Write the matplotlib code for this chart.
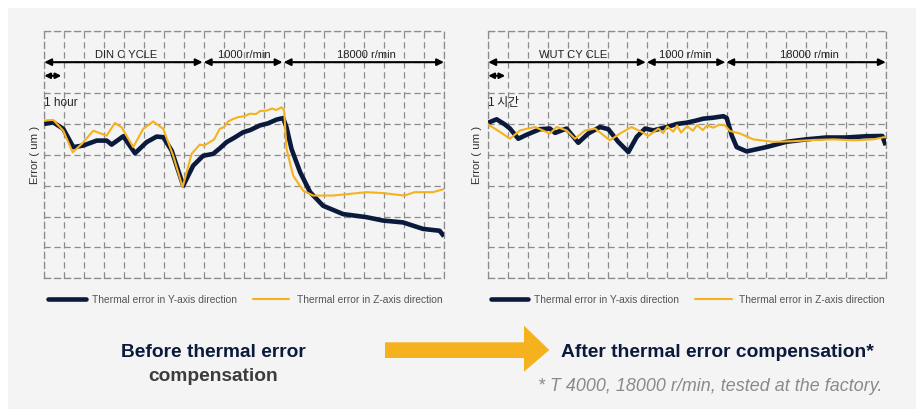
import matplotlib
matplotlib.use("Agg")
import matplotlib.pyplot as plt
from matplotlib.patches import Rectangle, Polygon

W, H = 924, 410

# ---------------- data (x in hours, y in grid units) ----------------
left_y_x = [0, 0.45, 0.95, 1.45, 1.95, 2.62, 3.12, 3.37, 3.95, 4.54, 5.12, 5.62, 5.95, 6.37, 6.95,
            7.45, 7.95, 8.45, 8.8, 9.12, 9.5, 9.95, 10.3, 10.78, 11.2, 11.62, 11.95, 12.12, 12.37,
            12.8, 13.3, 13.95, 14.95, 16.12, 16.95, 17.95, 18.95, 19.78, 20]
left_y_v = [5.0, 5.05, 4.84, 4.25, 4.3, 4.46, 4.46, 4.33, 4.6, 4.05, 4.41, 4.59, 4.57, 4.14, 3.0,
            3.65, 3.97, 4.03, 4.22, 4.41, 4.55, 4.73, 4.8, 4.95, 5.02, 5.14, 5.19, 4.89, 4.19,
            3.44, 2.79, 2.35, 2.08, 1.98, 1.87, 1.81, 1.6, 1.54, 1.36]

left_z_x = [0, 0.45, 0.95, 1.42, 1.87, 2.45, 3.12, 3.53, 3.87, 4.45, 4.95, 5.45, 5.95, 6.45, 6.92,
            7.37, 7.78, 8.0, 8.28, 8.5, 8.78, 9.0, 9.2, 9.45, 9.7, 10.0, 10.28, 10.6, 10.8, 11.12,
            11.4, 11.6, 11.87, 12.0, 12.12, 12.45, 12.95, 13.45, 14.45, 16.12, 16.95, 18.03, 18.53,
            19.45, 20]
left_z_v = [5.11, 5.13, 4.78, 4.08, 4.35, 4.78, 4.62, 5.03, 4.89, 4.25, 4.84, 5.08, 4.84, 3.97, 2.95,
            4.03, 4.33, 4.3, 4.41, 4.5, 4.84, 4.9, 5.08, 5.16, 5.22, 5.25, 5.33, 5.32, 5.42, 5.43,
            5.5, 5.45, 5.54, 5.43, 4.19, 3.33, 2.84, 2.68, 2.68, 2.79, 2.76, 2.68, 2.79,
            2.79, 2.89]

right_y_x = [0, 0.42, 0.84, 1.09, 1.51, 1.93, 2.6, 3.1, 3.36, 3.94, 4.53, 5.03, 5.62, 6.04, 6.54,
             7.05, 7.47, 7.89, 8.31, 8.98, 9.5, 9.98, 10.4, 10.82, 11.3, 11.83, 12.0, 12.25, 12.5,
             13.0, 14.0, 15.0, 16.0, 17.0, 18.0, 19.0, 19.83, 20]
right_y_v = [5.04, 5.15, 4.98, 4.85, 4.52, 4.65, 4.83, 4.85, 4.71, 4.85, 4.39, 4.69, 4.9, 4.83, 4.42,
             4.09, 4.58, 4.85, 4.79, 4.9, 5.0, 5.04, 5.1, 5.17, 5.2, 5.25, 5.19, 4.63, 4.25,
             4.11, 4.25, 4.42, 4.5, 4.56, 4.56, 4.6, 4.61, 4.31]

right_z_x = [0, 0.59, 1.09, 1.59, 2.35, 3.1, 3.44, 3.94, 4.36, 4.87, 5.37, 6.12, 6.63, 7.21, 7.72,
             8.05, 8.56, 8.8, 9.0, 9.31, 9.5, 9.7, 10.0, 10.3, 10.5, 10.8, 11.0, 11.33, 11.6, 11.9,
             12.16, 12.67, 13.34, 14.35, 15.35, 16.36, 17.37, 18.37, 19.38, 20]
right_z_v = [4.98, 4.74, 4.52, 4.79, 4.9, 4.69, 4.9, 4.79, 4.52, 4.79, 4.85, 4.47, 4.69, 4.9, 4.74,
             4.61, 4.85, 4.7, 4.92, 4.75, 4.95, 4.72, 4.93, 4.78, 4.96, 4.8, 4.95, 4.88, 4.97, 4.96,
             4.77, 4.69, 4.5, 4.42, 4.44, 4.48, 4.5, 4.47, 4.5, 4.58]

left_phases = ["DIN C YCLE", "1000 r/min", "18000 r/min"]
right_phases = ["WUT CY CLE", "1000 r/min", "18000 r/min"]
phase_bounds = [(0, 7.92), (7.98, 11.92), (11.98, 20)]
left_label_x = [4.1, 10.0, 16.1]
right_label_x = [4.28, 9.94, 16.14]

legend_labels = ["Thermal error in Y-axis direction", "Thermal error in Z-axis direction"]

NAVY = "#0b1a3c"
YELLOW = "#f5b21e"
GRID = "#8c8c8c"
BG = "#f4f4f4"

NARROW = ["Liberation Sans", "DejaVu Sans"]

fig = plt.figure(figsize=(W / 100, H / 100), dpi=100)
fig.patch.set_facecolor("white")

def fx(px):
    return px / W

def fy(py):
    return 1 - py / H

# background panel
fig.add_artist(Rectangle((fx(8), fy(410)), fx(916) - fx(8), fy(9) - fy(410),
                         transform=fig.transFigure, facecolor=BG, edgecolor="none", zorder=0))


def make_panel(x0, x1, yx, yv, zx, zv, phases, label_x, hour_text, hour_family):
    ax = fig.add_axes([fx(x0), fy(279.3), fx(x1) - fx(x0), fy(32.3) - fy(279.3)])
    ax.set_facecolor("none")
    ax.set_xlim(0, 20)
    ax.set_ylim(0, 8)
    ax.set_xticks(range(21))
    ax.set_yticks(range(9))
    ax.tick_params(length=0, labelbottom=False, labelleft=False)
    ax.grid(True, color=GRID, lw=0.9, ls=(0, (5, 3)))
    for s in ax.spines.values():
        s.set_color(GRID)
        s.set_linewidth(0.9)
        s.set_linestyle((0, (5, 3)))
    ax.plot(yx, yv, color=NAVY, lw=3.3, solid_capstyle="butt", solid_joinstyle="round", zorder=3)
    ax.plot(zx, zv, color=YELLOW, lw=1.5, zorder=4)
    for (a, b), lab, lx in zip(phase_bounds, phases, label_x):
        ax.annotate("", xy=(b, 7.0), xytext=(a, 7.0),
                    arrowprops=dict(arrowstyle="<|-|>", color="black", lw=1.5,
                                    mutation_scale=10, shrinkA=0, shrinkB=0), zorder=5)
        ax.text(lx, 7.27, lab, ha="center", va="center", fontsize=8, color="#222222",
                family=NARROW)
    ax.annotate("", xy=(0.85, 6.56), xytext=(0, 6.56),
                arrowprops=dict(arrowstyle="<|-|>", color="black", lw=1.5,
                                mutation_scale=8, shrinkA=0, shrinkB=0), zorder=5)
    ax.text(0.0, 5.72, hour_text, ha="left", va="center", fontsize=8.5, color="#222222",
            family=hour_family)
    return ax


axL = make_panel(44.3, 444.0, left_y_x, left_y_v, left_z_x, left_z_v,
                 left_phases, left_label_x, "1 hour", NARROW)
axR = make_panel(488.3, 885.7, right_y_x, right_y_v, right_z_x, right_z_v,
                 right_phases, right_label_x, "1 시간", ["Noto Sans CJK KR", "DejaVu Sans"])

# y labels
for xpx in (35, 477):
    fig.text(fx(xpx), fy(155), "Error ( um )", rotation=90, ha="center", va="center",
             fontsize=8.2, color="#333333", family=NARROW)

# legends (manual)
def legend(x_line0, x_line1, x_text0, color, lw, label):
    fig.add_artist(plt.Line2D([fx(x_line0), fx(x_line1)], [fy(300), fy(300)],
                              transform=fig.transFigure, color=color, lw=lw,
                              solid_capstyle="round"))
    fig.text(fx(x_text0), fy(300), label, ha="left", va="center", fontsize=7.35,
             color="#555555", family=NARROW)

legend(48, 85.5, 92, NAVY, 3.3, legend_labels[0])
legend(253, 289, 297, YELLOW, 1.5, legend_labels[1])
legend(491, 528, 534, NAVY, 3.3, legend_labels[0])
legend(695, 732, 739.3, YELLOW, 1.5, legend_labels[1])

# bottom texts
fig.text(fx(213), fy(353), "Before thermal error", ha="center", va="center",
         fontsize=13.8, fontweight="bold", color=NAVY, family=NARROW)
fig.text(fx(213), fy(377), "compensation", ha="center", va="center",
         fontsize=13.8, fontweight="bold", color="#3c3c3c", family=NARROW)
fig.text(fx(561), fy(353), "After thermal error compensation*", ha="left", va="center",
         fontsize=13.9, fontweight="bold", color=NAVY, family=NARROW)
fig.text(fx(882), fy(387), "* T 4000, 18000 r/min, tested at the factory.", ha="right",
         va="center", fontsize=12.9, style="italic", color="#8a8a8a", family=NARROW)

# big arrow
arrow_pts = [(385, 343.3), (524, 343.3), (524, 326.7), (549.3, 351), (524, 372.7),
             (524, 359), (385, 359)]
fig.add_artist(Polygon([(fx(x), fy(y)) for x, y in arrow_pts], closed=True,
                       transform=fig.transFigure, facecolor=YELLOW, edgecolor="none"))

fig.savefig("out.png", dpi=100, facecolor=fig.get_facecolor())
